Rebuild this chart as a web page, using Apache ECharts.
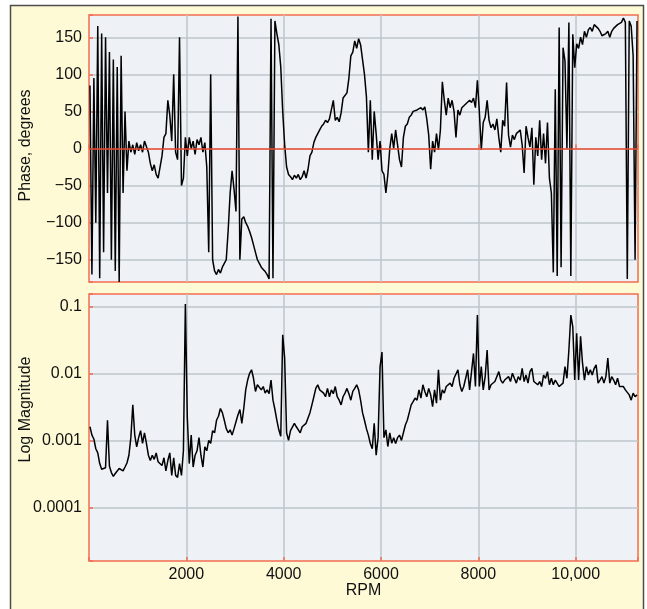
<!DOCTYPE html>
<html>
<head>
<meta charset="utf-8">
<script src="https://cdn.jsdelivr.net/npm/echarts@6/dist/echarts.min.js"></script>
<style>
html, body { margin: 0; padding: 0; background: #fff; }
#chart { width: 647px; height: 609px; }
</style>
</head>
<body>
<div id="chart"></div>
<script>
// samples every 40 RPM, starting at 20 RPM
const rpmStart = 20;
const rpmStep = 40;

// phase, degrees
const phase = [
    85, -170, 95, -100, 165, -175, 155, -140, 150, -60, 130, -150, 120, -165, 110, -180, 125, -60, 50, -30,
    10, -5, 5, -8, 8, -3, 5, -5, 10, 12, -5,
    -20, -30, -22, -35, -40, -25, -10, 15, 20, 65, 45, 10, 100, -5, -15, 150, -50, -40, 15, -10,
    15, 0, 10, -8, 12, 5, 15, -5, 8, -25,
    -140, 100, -150, -165, -170, -163, -168, -160, -155, -150,
    -110, -60, -30, -55, -85, 178, -150, -95, -92, -100,
    -105, -112, -120, -130, -140, -150, -155, -160, -163, -166, -170, -176,
    175, -175, 172, 155, 140, 110, 50, 5, -25, -35,
    -38, -42, -36, -40, -35, -42, -38, -30, -40, -28, -10,
    -5, 8, 15, 20, 25, 30, 33, 38, 35, 40, 38, 65, 38, 42, 36, 48, 68, 70,
    75, 95, 125, 130, 145, 135, 148, 140, 138, 100, 70, -5, 65, -15, 50, 20, -15, 10,
    -30, -35, -60, -35, 0, 20, 0, 25, 5, -15, -25, 15, 30, 33, 42, 45, 50, 48, 52, 50, 55, 52, 56, 40, 18,
    -28, 10, -5, 20, -2, 25, 90, 65, 45, 68, 55, 65, 50, 15, 52, 45, 55, 55, 60, 58, 65, 62, 68, 55, 92,
    50, -2, 35, 42, 65, 38, 28, 33, 25, 40, 15, -5, 38, 30, 89, 18, 2, 18, 12, 20, 22, 25, 5, -33, 30,
    15, 2, 28, -49, 15, -10, 38, -15, 20, -20, 35, -40, -60, -167, 80, -172, 163, -160, 136, 118, 0, 170, -172, 154, 109,
    141, 135, 150, 140, 158, 150, 160, 163, 158, 167, 165, 162, 158, 152, 150, 155, 158, 150, 158, 162, 160, 167, 168, 170, 176,
    170, -176, 172, 165, 125, -150, 172
];

const magnitude = [
    0.0016, 0.0012, 0.00105, 0.00075, 0.00065, 0.00045, 0.00037, 0.00035, 0.00039, 0.002,
    0.00041, 0.00033, 0.00029, 0.00032, 0.00033, 0.00038, 0.00039, 0.00035, 0.0004, 0.00046,
    0.0006, 0.0011, 0.0034, 0.0012, 0.0008, 0.0011, 0.0014, 0.0009, 0.0013, 0.0009, 0.0006,
    0.0005, 0.0006, 0.00052, 0.00065, 0.00048, 0.0005, 0.00042, 0.00055, 0.00035, 0.0005,
    0.00065, 0.0003, 0.00055, 0.0003, 0.00028, 0.00045, 0.0003, 0.0007, 0.11, 0.0022,
    0.00045, 0.0012, 0.0004, 0.0006, 0.0007, 0.0011, 0.0006, 0.0004, 0.0008, 0.0007,
    0.001, 0.0009, 0.0014, 0.0013, 0.002, 0.0023, 0.003, 0.0026, 0.002, 0.0015,
    0.0013, 0.00144, 0.0012, 0.0015, 0.0019, 0.0024, 0.0029, 0.0018, 0.003, 0.0057,
    0.008, 0.0101, 0.0114, 0.0085, 0.0054, 0.0068, 0.0072, 0.0057, 0.0064, 0.0051, 0.0057, 0.005,
    0.008, 0.004, 0.0029, 0.002, 0.00144, 0.00115, 0.038, 0.017, 0.0013, 0.001,
    0.0014, 0.0014, 0.0018, 0.0016, 0.0017, 0.0013, 0.0016, 0.0015, 0.0018, 0.0019, 0.0026,
    0.0034, 0.0045, 0.006, 0.0068, 0.0057, 0.006, 0.0051, 0.0045, 0.006, 0.0045, 0.0057, 0.005,
    0.0064, 0.0045, 0.004, 0.0034, 0.0045, 0.0051,
    0.006, 0.005, 0.004, 0.0054, 0.006, 0.0068, 0.0057, 0.004, 0.0026, 0.002, 0.0015, 0.0012,
    0.0009, 0.00075, 0.0018, 0.0006, 0.0011, 0.0126,
    0.021, 0.0011, 0.00144, 0.00081, 0.0013, 0.00091, 0.0011, 0.0009, 0.0011, 0.0012, 0.001, 0.0013,
    0.0017, 0.002, 0.0026, 0.0034, 0.0038, 0.0043, 0.004, 0.0057, 0.0043, 0.0068, 0.0054, 0.0045, 0.006,
    0.0048, 0.0032, 0.0057, 0.0036, 0.0114, 0.004, 0.0057, 0.0051, 0.0064, 0.0068, 0.0072, 0.0064,
    0.0085, 0.009, 0.0114, 0.0068, 0.0054, 0.0064, 0.006, 0.0114, 0.0057, 0.006, 0.02, 0.0064, 0.075,
    0.0064, 0.0127, 0.0057, 0.009, 0.0225, 0.0057, 0.0068, 0.0068, 0.0076, 0.0072, 0.0107, 0.008,
    0.0072, 0.008, 0.0076, 0.009, 0.0076, 0.0101, 0.0085, 0.0072, 0.009, 0.008, 0.012, 0.0076, 0.0095,
    0.0072, 0.0107, 0.012, 0.0076, 0.008, 0.0068, 0.0076, 0.0064, 0.0095, 0.0085, 0.0107, 0.0068,
    0.0085, 0.0068, 0.008, 0.0076, 0.0064, 0.006, 0.0072, 0.0127, 0.0085, 0.0225, 0.075, 0.05, 0.008,
    0.04, 0.008, 0.036, 0.0143, 0.008, 0.0127, 0.0095, 0.0114, 0.0095, 0.012, 0.0135, 0.0072,
    0.008, 0.009, 0.0072, 0.009, 0.017, 0.0072, 0.009, 0.008, 0.0068, 0.0085, 0.0064, 0.0068, 0.0064,
    0.0057, 0.006, 0.0048, 0.004, 0.0051, 0.0045, 0.0048
];

const rpmRange = [0, 11280];
const phaseRange = [-180, 180];
const magRange = [1.57e-5, 0.155];

const FONT = '"Liberation Sans", Arial, Helvetica, sans-serif';
const BORDER = '#f26c50';
const GRIDLINE = '#bcc6cd';
const TEXT = '#111111';

const rpm = phase.map((_, i) => rpmStart + i * rpmStep);
const phaseData = phase.map((v, i) => [rpm[i], v]);
const magData = magnitude.map((v, i) => [rpm[i], v]);

function fmtRpm(v) {
    if (v <= 0 || v >= rpmRange[1]) return '';
    return v >= 10000 ? v.toLocaleString('en-US') : String(v);
}

function fmtPhase(v) {
    if (Math.abs(v) >= 180) return '';
    return v < 0 ? '\u2212' + (-v) : String(v);
}

function fmtLog(v) {
    const l = Math.log10(v);
    if (Math.abs(l - Math.round(l)) > 1e-6) return '';
    return String(Math.pow(10, Math.round(l)));
}

function xAxisFor(gridIndex, withLabels) {
    return {
        type: 'value',
        gridIndex: gridIndex,
        min: rpmRange[0],
        max: rpmRange[1],
        splitNumber: 6,
        axisLine: { show: false },
        axisTick: { show: true, inside: true, length: 4, lineStyle: { color: BORDER, width: 1.5 } },
        axisLabel: { show: withLabels, margin: 6, color: TEXT, fontFamily: FONT, fontSize: 16, formatter: fmtRpm },
        splitLine: { show: true, showMinLine: false, showMaxLine: false, lineStyle: { color: GRIDLINE, width: 1.5 } },
        name: withLabels ? 'RPM' : '',
        nameLocation: 'middle',
        nameGap: 22,
        nameMoveOverlap: false,
        nameTextStyle: { color: TEXT, fontFamily: FONT, fontSize: 16 }
    };
}

const chart = echarts.init(document.getElementById('chart'), null, { renderer: 'canvas' });

const option = {
    backgroundColor: '#ffffff',
    animation: false,
    graphic: {
        elements: [{
            type: 'rect',
            z: -100,
            silent: true,
            shape: { x: 10.5, y: 5.5, width: 633, height: 620 },
            style: { fill: '#fffad6', stroke: '#4d4d4d', lineWidth: 1.5 }
        }]
    },
    grid: [
        { left: 89, top: 15, width: 549, height: 267, show: true, backgroundColor: '#eef2f6', borderColor: BORDER, borderWidth: 1.5 },
        { left: 89, top: 294, width: 549, height: 267, show: true, backgroundColor: '#eef2f6', borderColor: BORDER, borderWidth: 1.5 }
    ],
    xAxis: [xAxisFor(0, false), xAxisFor(1, true)],
    yAxis: [
        {
            type: 'value',
            gridIndex: 0,
            min: phaseRange[0],
            max: phaseRange[1],
            splitNumber: 7,
            axisLine: { show: false },
            axisTick: { show: true, inside: true, length: 4, lineStyle: { color: BORDER, width: 1.5 } },
            axisLabel: { margin: 7, color: TEXT, fontFamily: FONT, fontSize: 16, formatter: fmtPhase },
            splitLine: { show: true, showMinLine: false, showMaxLine: false, lineStyle: { color: GRIDLINE, width: 1.5 } },
            name: 'Phase, degrees',
            nameLocation: 'middle',
            nameGap: 55,
            nameMoveOverlap: false,
            nameTextStyle: { color: TEXT, fontFamily: FONT, fontSize: 16, padding: [0, 0, 0, 6] }
        },
        {
            type: 'log',
            gridIndex: 1,
            logBase: 10,
            min: magRange[0],
            max: magRange[1],
            axisLine: { show: false },
            axisTick: { show: true, inside: true, length: 4, lineStyle: { color: BORDER, width: 1.5 } },
            axisLabel: { margin: 7, color: TEXT, fontFamily: FONT, fontSize: 16, formatter: fmtLog },
            splitLine: { show: true, showMinLine: false, showMaxLine: false, lineStyle: { color: GRIDLINE, width: 1.5 } },
            name: 'Log Magnitude',
            nameLocation: 'middle',
            nameGap: 55,
            nameMoveOverlap: false,
            nameTextStyle: { color: TEXT, fontFamily: FONT, fontSize: 16, padding: [0, 0, 0, 36] }
        }
    ],
    series: [
        {
            name: 'Phase',
            type: 'line',
            xAxisIndex: 0,
            yAxisIndex: 0,
            data: phaseData,
            showSymbol: false,
            symbol: 'none',
            lineStyle: { color: '#000', width: 1.5 },
            markLine: {
                silent: true,
                symbol: 'none',
                label: { show: false },
                lineStyle: { color: '#ef4c33', width: 1.5, type: 'solid' },
                data: [{ yAxis: 0 }]
            }
        },
        {
            name: 'Magnitude',
            type: 'line',
            xAxisIndex: 1,
            yAxisIndex: 1,
            data: magData,
            showSymbol: false,
            symbol: 'none',
            lineStyle: { color: '#000', width: 1.5 }
        }
    ]
};

chart.setOption(option);
</script>
</body>
</html>
